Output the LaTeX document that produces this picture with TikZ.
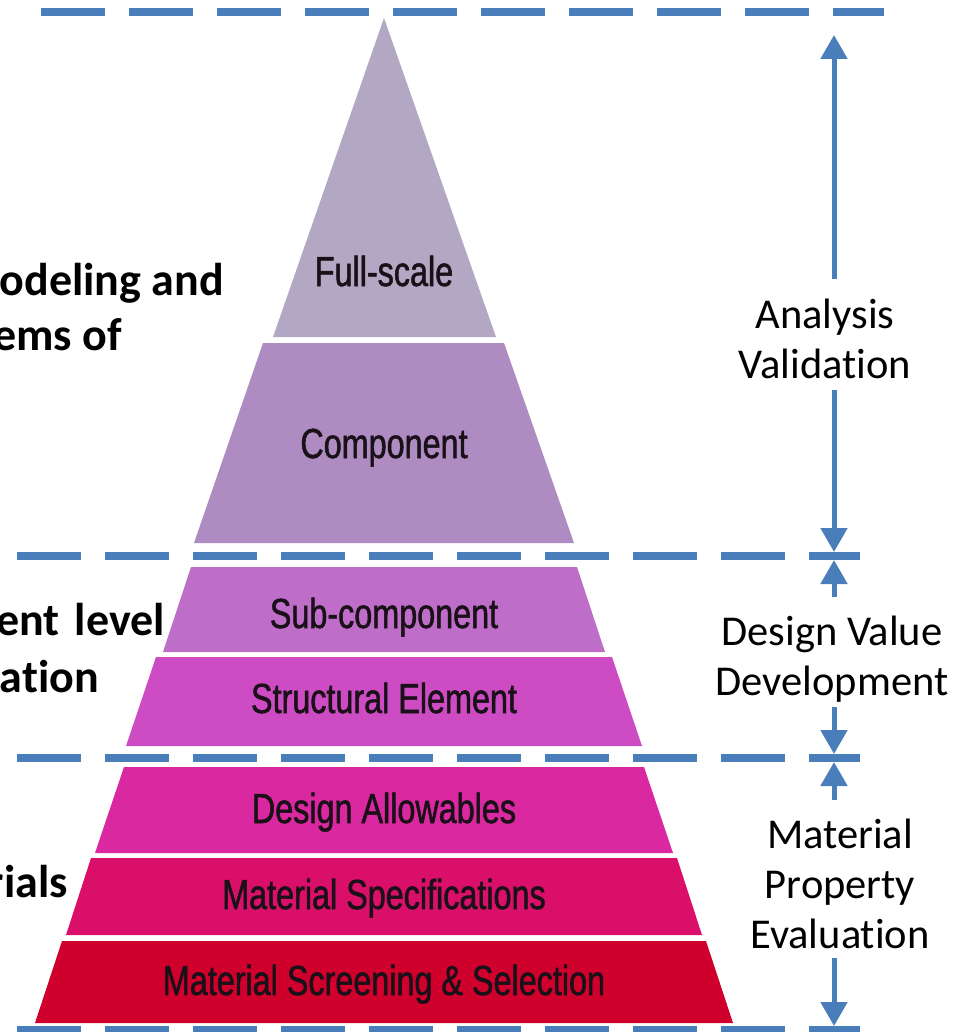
\documentclass[tikz,border=0pt]{standalone}
\usepackage{fontspec}
\setmainfont{Carlito}[Ligatures=NoCommon]
\newfontfamily\narrowfont[FakeStretch=0.77,FakeBold=1.2]{Liberation Sans}
\usetikzlibrary{arrows.meta}
\definecolor{lineblue}{HTML}{4A7EBB}
\definecolor{cfull}{HTML}{B2A8C4}
\definecolor{ccomp}{HTML}{AE8CC2}
\definecolor{csub}{HTML}{BE6EC8}
\definecolor{cstruct}{HTML}{CD4BC3}
\definecolor{callow}{HTML}{DA28A0}
\definecolor{cspec}{HTML}{DA0F69}
\definecolor{cscreen}{HTML}{D0002D}
\definecolor{lvltext}{HTML}{1A1018}
\begin{document}
\begin{tikzpicture}[x=1pt,y=-1pt,
  guide/.style={draw=lineblue, line width=8pt, dash pattern=on 64pt off 24pt},
  lvl/.style={font=\narrowfont\fontsize{42}{48}\selectfont, text=lvltext, anchor=base, inner sep=0pt},
  sidetxt/.style={font=\fontsize{42.5}{50}\selectfont, align=center, anchor=base, inner sep=0pt},
  lefttxt/.style={font=\bfseries\fontsize{46}{55}\selectfont, anchor=base east, inner sep=0pt},
  dim/.style={draw=lineblue, line width=5pt, -{Triangle[width=26pt,length=24pt]}}
]
\useasboundingbox (0,0) rectangle (955,1032);
\clip (0,0) rectangle (955,1032);

% pyramid bands
\fill[cfull]   (384,18) -- (496,337) -- (273,337) -- cycle;
\fill[ccomp]   (263,343) -- (504,343) -- (574,543) -- (194,543) -- cycle;
\fill[csub]    (191,567) -- (577,567) -- (605,652) -- (163,652) -- cycle;
\fill[cstruct] (156,657) -- (612,657) -- (642,746) -- (126,746) -- cycle;
\fill[callow]  (124,767) -- (644,767) -- (673,853) -- (95,853) -- cycle;
\fill[cspec]   (91,858) -- (677,858) -- (702,935) -- (66,935) -- cycle;
\fill[cscreen] (62,941) -- (706,941) -- (733,1023) -- (35,1023) -- cycle;

% band labels
\node[lvl] (full)   at (384,286) {Full-scale};
\node[lvl] (comp)   at (384,458) {Component};
\node[lvl] (sub)    at (384,628) {Sub-component};
\node[lvl] (struct) at (384,713) {Structural Element};
\node[lvl] (allow)  at (384,823) {Design Allowables};
\node[lvl] (spec)   at (384,909) {Material Specifications};
\node[lvl] (screen) at (384,995) {Material Screening \& Selection};

% dashed level lines
\draw[guide] (41,12) -- (884,12);
\draw[guide] (17,556) -- (860,556);
\draw[guide] (17,758) -- (860,758);
\draw[guide] (17,1030) -- (860,1030);

% left labels (cut by the picture edge)
\node[lefttxt] (l1) at (224,295) {odeling and};
\node[lefttxt] (l2) at (122,350) {ems of};
\node[lefttxt] (l3) at (165,635) {ent\hspace{15pt}level};
\node[lefttxt] (l4) at (99,692) {ation};
\node[lefttxt] (l5) at (68,897) {rials};

% right labels (base anchor = baseline of the last line)
\node[sidetxt] (av) at (825,378) {Analysis\\Validation};
\node[sidetxt] (dv) at (832,695) {Design Value\\Development};
\node[sidetxt] (mp) at (840,948) {Material\\Property\\Evaluation};

% dimension arrows
\coordinate (a1s) at (834,279);  \coordinate (a1t) at (834,35);
\coordinate (a2s) at (834,390);  \coordinate (a2t) at (834,552);
\coordinate (a3s) at (834,597);  \coordinate (a3t) at (834,560);
\coordinate (a4s) at (834,707);  \coordinate (a4t) at (834,754);
\coordinate (a5s) at (834,800);  \coordinate (a5t) at (834,762);
\coordinate (a6s) at (834,958);  \coordinate (a6t) at (834,1026);
\draw[dim] (a1s) -- (a1t);
\draw[dim] (a2s) -- (a2t);
\draw[dim] (a3s) -- (a3t);
\draw[dim] (a4s) -- (a4t);
\draw[dim] (a5s) -- (a5t);
\draw[dim] (a6s) -- (a6t);
\end{tikzpicture}
\end{document}
